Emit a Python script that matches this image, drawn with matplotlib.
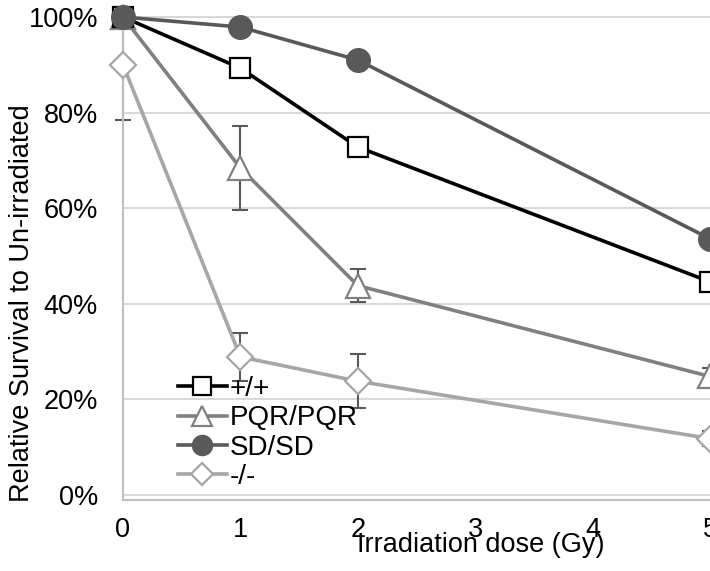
import matplotlib

matplotlib.use("Agg")
import matplotlib.pyplot as plt
from matplotlib.ticker import FuncFormatter

plt.rcParams["font.family"] = ["Liberation Sans", "DejaVu Sans"]

doses = [0, 1, 2, 5]
wt = [100, 89.3, 72.8, 44.6]
pqr = [100, 68.4, 43.8, 24.8]
pqr_err = [0, 8.7, 3.4, 1.7]
sd = [100, 97.9, 91.0, 53.6]
ko = [90.0, 28.9, 23.8, 11.8]
ko_err = [11.5, 5.0, 5.7, 1.5]
x_ticks = [0, 1, 2, 3, 4, 5]
y_ticks = [0, 20, 40, 60, 80, 100]

FS = 19.5
W, H = 710, 571

fig = plt.figure(figsize=(W / 100, H / 100), dpi=100)
# axes box in pixels: left 123, right 710, bottom 500, top 12
ax = fig.add_axes([123 / W, (H - 500) / H, (710 - 123) / W, (500 - 12) / H])

# 0% sits at 495 px, 100% at 17 px
ppu = (495 - 17) / 100
ax.set_ylim(-5 / ppu, 100 + 5 / ppu)
ax.set_xlim(0, 5)

ax.set_yticks(y_ticks)
ax.yaxis.set_major_formatter(FuncFormatter(lambda v, _: f"{v:.0f}%"))
ax.set_xticks(x_ticks)
ax.grid(axis="y", color="#d9d9d9", lw=1.5, zorder=0)
ax.tick_params(length=0, labelsize=FS)
ax.tick_params(axis="y", pad=18)
ax.tick_params(axis="x", pad=12)
for s in ("top", "right"):
    ax.spines[s].set_visible(False)
for s in ("left", "bottom"):
    ax.spines[s].set_color("#bfbfbf")
    ax.spines[s].set_linewidth(1.5)

err_kw = dict(fmt="none", ecolor="#595959", elinewidth=1.5, capsize=6,
              capthick=1.5, zorder=2, clip_on=False)
ax.errorbar(doses, pqr, yerr=pqr_err, **err_kw)
ax.errorbar(doses, ko, yerr=ko_err, **err_kw)

ax.plot(doses, wt, color="black", lw=2.6, marker="s", ms=15, mfc="white",
        mec="black", mew=1.6, label="+/+", zorder=4, clip_on=False)
ax.plot(doses, pqr, color="#808080", lw=2.6, marker="^", ms=17, mfc="white",
        mec="#808080", mew=1.6, label="PQR/PQR", zorder=3, clip_on=False)
ax.plot(doses, sd, color="#595959", lw=2.6, marker="o", ms=17, mfc="#595959",
        mec="#595959", label="SD/SD", zorder=5, clip_on=False)
ax.plot(doses, ko, color="#a6a6a6", lw=2.6, marker="D", ms=13, mfc="white",
        mec="#a6a6a6", mew=1.6, label="-/-", zorder=3, clip_on=False)

ax.legend(loc="upper left", bbox_to_anchor=(178 / W, (H - 376) / H),
          bbox_transform=fig.transFigure, frameon=False, fontsize=20,
          handlelength=1.75, handletextpad=0.1, labelspacing=0.12,
          borderpad=0, borderaxespad=0, markerscale=0.85)

fig.text(481 / W, (H - 545) / H, "Irradiation dose (Gy)", fontsize=FS,
         ha="center", va="center")
fig.text(22 / W, (H - 303) / H, "Relative Survival to Un-irradiated",
         fontsize=FS, rotation=90, ha="center", va="center")

fig.savefig("out.png", dpi=100)
plt.close(fig)
